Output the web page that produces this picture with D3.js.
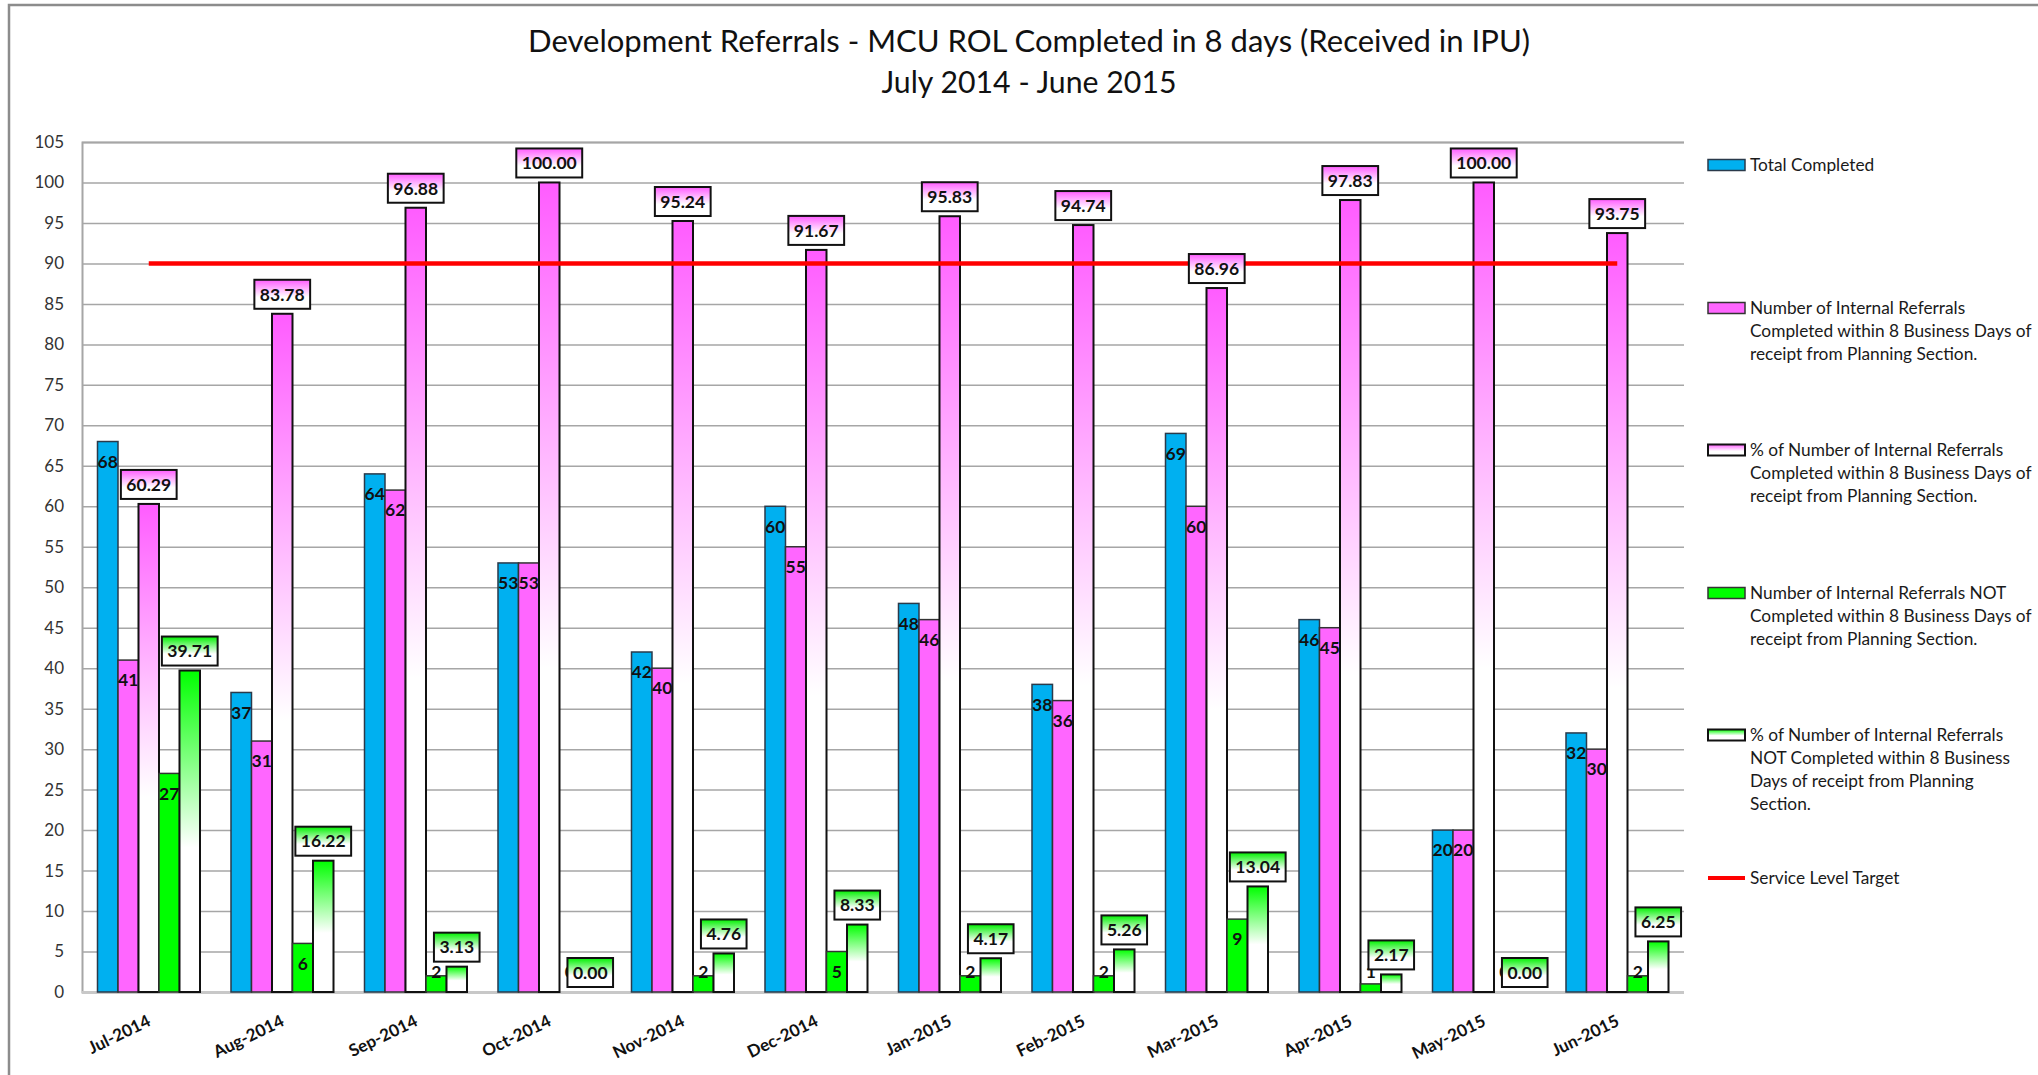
<!DOCTYPE html>
<html>
<head>
<meta charset="utf-8">
<script src="https://cdn.jsdelivr.net/npm/d3@7"></script>
<style>
  html, body { margin: 0; padding: 0; background: #fff; }
  svg { display: block; font-family: Lato, "Open Sans", sans-serif; }
</style>
</head>
<body>
<svg id="chart" width="2038" height="1075"></svg>
<script>
// ---------- DATA ----------
const months = ["Jul-2014","Aug-2014","Sep-2014","Oct-2014","Nov-2014","Dec-2014",
                "Jan-2015","Feb-2015","Mar-2015","Apr-2015","May-2015","Jun-2015"];
const totalCompleted   = [68, 37, 64, 53, 42, 60, 48, 38, 69, 46, 20, 32];
const completedWithin  = [41, 31, 62, 53, 40, 55, 46, 36, 60, 45, 20, 30];
const pctCompleted     = [60.29, 83.78, 96.88, 100.00, 95.24, 91.67, 95.83, 94.74, 86.96, 97.83, 100.00, 93.75];
const notCompleted     = [27, 6, 2, 0, 2, 5, 2, 2, 9, 1, 0, 2];
const pctNotCompleted  = [39.71, 16.22, 3.13, 0.00, 4.76, 8.33, 4.17, 5.26, 13.04, 2.17, 0.00, 6.25];
const serviceTarget    = [90, 90, 90, 90, 90, 90, 90, 90, 90, 90, 90, 90];
const yTicks = [0, 5, 10, 15, 20, 25, 30, 35, 40, 45, 50, 55, 60, 65, 70, 75, 80, 85, 90, 95, 100, 105];
const titleLines = ["Development Referrals - MCU ROL Completed in 8 days (Received in IPU)", "July 2014 - June 2015"];
const legendLabels = [
  ["Total Completed"],
  ["Number of Internal Referrals", "Completed within 8 Business Days of", "receipt from Planning Section."],
  ["% of Number of Internal Referrals", "Completed within 8 Business Days of", "receipt from Planning Section."],
  ["Number of Internal Referrals NOT", "Completed within 8 Business Days of", "receipt from Planning Section."],
  ["% of Number of Internal Referrals", "NOT Completed within 8 Business", "Days of receipt from Planning", "Section."],
  ["Service Level Target"]
];

// ---------- SETUP ----------
const svg = d3.select("#chart");
const W = 2038, H = 1075;
const plot = { left: 82, right: 1684, top: 142, bottom: 992 };

svg.append("rect").attr("width", W).attr("height", H).attr("fill", "#fff");
svg.append("rect").attr("x", 9).attr("y", 5).attr("width", 2200).attr("height", 1300)
   .attr("fill", "none").attr("stroke", "#8c8c8c").attr("stroke-width", 2.5);

const defs = svg.append("defs");
function grad(id, color, stop) {
  const g = defs.append("linearGradient").attr("id", id)
    .attr("x1", 0).attr("y1", 0).attr("x2", 0).attr("y2", 1);
  g.append("stop").attr("offset", 0).attr("stop-color", color);
  g.append("stop").attr("offset", stop).attr("stop-color", "#ffffff");
  g.append("stop").attr("offset", 1).attr("stop-color", "#ffffff");
}
grad("gPinkBar", "#ff5cff", 0.6);
grad("gGreenBar", "#00ff00", 0.55);
grad("gPinkBox", "#ff5cff", 0.6);
grad("gGreenBox", "#00f000", 0.6);

const series = [
  { key: "total",  values: totalCompleted,  fill: "#00b0f0", stroke: "#2a3a4a", label: "inside" },
  { key: "within", values: completedWithin, fill: "#ff66ff", stroke: "#333",    label: "inside" },
  { key: "pct",    values: pctCompleted,    fill: "url(#gPinkBar)", stroke: "#111", label: "box", boxFill: "url(#gPinkBox)" },
  { key: "not",    values: notCompleted,    fill: "#00ff00", stroke: "#333",    label: "inside" },
  { key: "pctNot", values: pctNotCompleted, fill: "url(#gGreenBar)", stroke: "#111", label: "box", boxFill: "url(#gGreenBox)" }
];

const x0 = d3.scaleBand().domain(months).range([plot.left, plot.right]).paddingInner(0).paddingOuter(0);
const x1 = d3.scaleBand().domain(series.map(s => s.key)).range([0, x0.bandwidth()])
  .paddingInner(0).paddingOuter(0.756);
const y = d3.scaleLinear().domain([0, 105]).range([plot.bottom, plot.top]);

// ---------- TITLE ----------
svg.append("text").attr("x", 1029).attr("y", 52).attr("text-anchor", "middle")
  .attr("font-size", 31).attr("fill", "#111")
  .attr("textLength", 1002).attr("lengthAdjust", "spacingAndGlyphs")
  .text(titleLines[0]);
svg.append("text").attr("x", 1029).attr("y", 93).attr("text-anchor", "middle")
  .attr("font-size", 31).attr("fill", "#111")
  .attr("textLength", 295).attr("lengthAdjust", "spacingAndGlyphs")
  .text(titleLines[1]);

// ---------- GRID + Y AXIS ----------
const yAxis = d3.axisLeft(y).tickValues(yTicks).tickSize(-(plot.right - plot.left)).tickPadding(18);
const gy = svg.append("g").attr("transform", `translate(${plot.left},0)`).call(yAxis);
gy.select(".domain").attr("stroke", "#a6a6a6").attr("stroke-width", 2);
gy.selectAll(".tick line").attr("stroke", "#a6a6a6").attr("stroke-width", 1.5);
gy.selectAll(".tick").filter(d => d === 0).select("line").attr("stroke", "#c8c8c8").attr("stroke-width", 3);
gy.selectAll(".tick text").attr("font-size", 17).attr("fill", "#333").attr("font-family", "Lato, sans-serif");

// ---------- X AXIS ----------
const xAxis = d3.axisBottom(x0).tickSize(0).tickPadding(0);
const gx = svg.append("g").attr("transform", `translate(0,${plot.bottom})`).call(xAxis);
gx.select(".domain").remove();
gx.selectAll(".tick text")
  .attr("font-size", 17).attr("font-weight", "bold").attr("fill", "#111").attr("font-family", "Lato, sans-serif")
  .attr("text-anchor", "end").attr("dy", 0).attr("y", 0)
  .attr("transform", "translate(3,33) rotate(-26)");

// ---------- BARS ----------
const groups = svg.append("g").selectAll("g").data(months).join("g")
  .attr("transform", d => `translate(${x0(d)},0)`);

series.forEach(s => {
  groups.append("rect")
    .attr("x", x1(s.key))
    .attr("width", x1.bandwidth())
    .attr("y", (d, i) => y(s.values[i]))
    .attr("height", (d, i) => y(0) - y(s.values[i]))
    .attr("fill", s.fill)
    .attr("stroke", s.stroke)
    .attr("stroke-width", s.label === "box" ? 2 : 1.5);
});

// ---------- TARGET LINE ----------
const line = d3.line().x((d, i) => x0(months[i]) + x0.bandwidth() / 2).y(d => y(d));
svg.append("path").datum(serviceTarget).attr("d", line)
  .attr("fill", "none").attr("stroke", "#ff0000").attr("stroke-width", 4.5);

// ---------- LABELS ----------
const labelLayer = svg.append("g");
series.filter(s => s.label === "inside").forEach(s => {
  months.forEach((m, i) => {
    const cx = x0(m) + x1(s.key) + x1.bandwidth() / 2;
    const cy = Math.min(y(s.values[i]) + 20, y(0) - 20);
    labelLayer.append("text").attr("x", cx).attr("y", cy).attr("dy", "0.36em")
      .attr("text-anchor", "middle").attr("font-size", 17.5).attr("font-weight", "bold")
      .attr("fill", "#111").text(s.values[i]);
  });
});
series.filter(s => s.label === "box").forEach(s => {
  months.forEach((m, i) => {
    const cx = x0(m) + x1(s.key) + x1.bandwidth() / 2;
    const bottom = y(s.values[i]) - 5;
    const g = labelLayer.append("g");
    const rect = g.append("rect");
    const t = g.append("text").attr("x", cx).attr("y", bottom - 14.5).attr("dy", "0.36em")
      .attr("text-anchor", "middle").attr("font-size", 17.5).attr("font-weight", "bold")
      .attr("fill", "#111").text(s.values[i].toFixed(2));
    const w = t.node().getComputedTextLength() + 11;
    rect.attr("x", cx - w / 2).attr("y", bottom - 29).attr("width", w).attr("height", 29)
      .attr("fill", s.boxFill).attr("stroke", "#111").attr("stroke-width", 2);
  });
});

// ---------- LEGEND ----------
const legendY = [165, 308, 450, 593, 735, 878];
const lg = svg.append("g");
legendLabels.forEach((lines, k) => {
  const yy = legendY[k];
  if (k < series.length) {
    const s = series[k];
    lg.append("rect").attr("x", 1708).attr("y", yy - 5.5).attr("width", 37).attr("height", 11)
      .attr("fill", s.fill).attr("stroke", s.stroke).attr("stroke-width", s.label === "box" ? 2 : 1.5);
  } else {
    lg.append("line").attr("x1", 1708).attr("x2", 1745).attr("y1", yy).attr("y2", yy)
      .attr("stroke", "#ff0000").attr("stroke-width", 4);
  }
  lines.forEach((txt, j) => {
    lg.append("text").attr("x", 1750).attr("y", yy + j * 23).attr("dy", "0.36em")
      .attr("font-size", 17.3).attr("fill", "#1a1a1a").text(txt);
  });
});
</script>
</body>
</html>
